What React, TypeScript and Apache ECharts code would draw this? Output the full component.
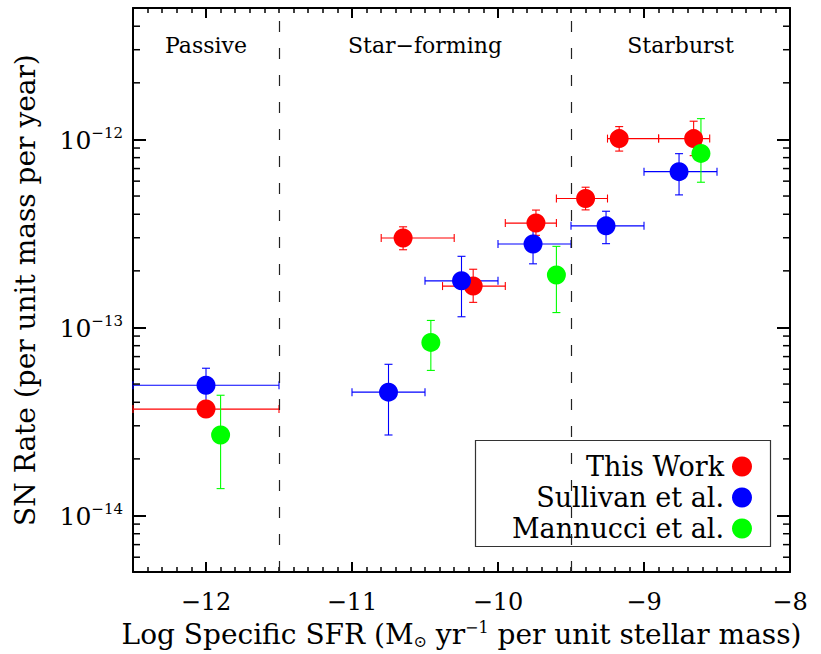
import React, { useEffect, useRef } from 'react';
import * as echarts from 'echarts';

const FONT = '"DejaVu Serif", serif';

const X_MIN = -12.5;
const X_MAX = -8;
const Y_MIN = 5e-15;
const Y_MAX = 5e-12;

const seriesNames = ['This Work', 'Sullivan et al.', 'Mannucci et al.'];
const seriesColors = ['#ff0000', '#0000ff', '#00ff00'];

// [x, y, xLow, xHigh, yLow, yHigh]
const thisWork = [
  [-12.0, 3.68e-14, -12.5, -11.5, 3.35e-14, 4.05e-14],
  [-10.65, 2.99e-13, -10.8, -10.3, 2.59e-13, 3.43e-13],
  [-10.17, 1.66e-13, -10.38, -9.95, 1.36e-13, 2.04e-13],
  [-9.74, 3.59e-13, -9.95, -9.6, 3.09e-13, 4.21e-13],
  [-9.4, 4.85e-13, -9.6, -9.25, 4.22e-13, 5.57e-13],
  [-9.17, 1.01e-12, -9.25, -8.9, 8.67e-13, 1.17e-12],
  [-8.66, 1.01e-12, -8.9, -8.55, 8.2e-13, 1.25e-12],
];

const sullivan = [
  [-12.0, 4.93e-14, -12.5, -11.5, 3.68e-14, 6.07e-14],
  [-10.75, 4.53e-14, -11.0, -10.5, 2.68e-14, 6.37e-14],
  [-10.25, 1.77e-13, -10.5, -10.0, 1.14e-13, 2.39e-13],
  [-9.76, 2.78e-13, -10.0, -9.5, 2.18e-13, 3.38e-13],
  [-9.26, 3.47e-13, -9.5, -9.0, 2.79e-13, 4.15e-13],
  [-8.76, 6.74e-13, -9.0, -8.5, 5.07e-13, 8.4e-13],
];

const mannucci = [
  [-11.9, 2.68e-14, -11.9, -11.9, 1.39e-14, 4.36e-14],
  [-10.46, 8.33e-14, -10.46, -10.46, 5.91e-14, 1.09e-13],
  [-9.6, 1.9e-13, -9.6, -9.6, 1.2e-13, 2.7e-13],
  [-8.61, 8.43e-13, -8.61, -8.61, 5.92e-13, 1.29e-12],
];

const seriesData = [thisWork, sullivan, mannucci];

const regionNames = ['Passive', 'Star\u2212forming', 'Starburst'];
const regionCenters = [-12.0, -10.5, -8.75];
const regionBounds = [-11.5, -9.5];

const minorYTicks = [
  6e-15, 7e-15, 8e-15, 9e-15,
  2e-14, 3e-14, 4e-14, 5e-14, 6e-14, 7e-14, 8e-14, 9e-14,
  2e-13, 3e-13, 4e-13, 5e-13, 6e-13, 7e-13, 8e-13, 9e-13,
  2e-12, 3e-12, 4e-12,
];

function errRender(color: string) {
  return (params: any, api: any) => {
    const x = api.value(0);
    const y = api.value(1);
    const xl = api.value(2);
    const xh = api.value(3);
    const yl = api.value(4);
    const yh = api.value(5);
    const c = api.coord([x, y]);
    const pyl = api.coord([x, yl]);
    const pyh = api.coord([x, yh]);
    const cap = 4;
    const style = { stroke: color, lineWidth: 1.1 };
    const ln = (x1: number, y1: number, x2: number, y2: number) => ({
      type: 'line',
      shape: { x1, y1, x2, y2 },
      style,
    });
    const children: any[] = [
      ln(c[0], pyl[1], c[0], pyh[1]),
      ln(c[0] - cap, pyl[1], c[0] + cap, pyl[1]),
      ln(c[0] - cap, pyh[1], c[0] + cap, pyh[1]),
    ];
    if (xh > xl) {
      const pxl = api.coord([xl, y]);
      const pxh = api.coord([xh, y]);
      children.push(
        ln(pxl[0], c[1], pxh[0], c[1]),
        ln(pxl[0], c[1] - cap, pxl[0], c[1] + cap),
        ln(pxh[0], c[1] - cap, pxh[0], c[1] + cap)
      );
    }
    return { type: 'group', children };
  };
}

export default function App() {
  const ref = useRef<HTMLDivElement>(null);

  useEffect(() => {
    document.body.style.margin = '0';
    const chart = echarts.init(ref.current!, null, { renderer: 'svg' });

    const axisLineStyle = { color: '#000', width: 2 };

    const xMajor = (pos: 'bottom' | 'top', labels: boolean): any => ({
      type: 'value',
      position: pos,
      min: X_MIN,
      max: X_MAX,
      splitLine: { show: false },
      axisLine: { show: true, onZero: false, lineStyle: axisLineStyle },
      axisTick: { show: true, inside: true, length: 10, lineStyle: { color: '#000', width: 2 } },
      axisLabel: labels
        ? {
            show: true,
            showMinLabel: false,
            margin: 18,
            color: '#000',
            fontSize: 24,
            fontFamily: FONT,
            formatter: (v: number) => (Math.abs(v - Math.round(v)) > 1e-6 ? '' : String(v).replace('-', '\u2212')),
          }
        : { show: false },
    });
    const xMinor = (pos: 'bottom' | 'top'): any => ({
      type: 'value',
      position: pos,
      min: X_MIN,
      max: X_MAX,
      interval: 0.1,
      splitLine: { show: false },
      axisLine: { show: false, onZero: false },
      axisTick: { show: true, inside: true, length: 5, lineStyle: { color: '#000', width: 1.5 } },
      axisLabel: { show: false },
    });

    const yCommon: any = {
      type: 'log',
      logBase: 10,
      min: Y_MIN,
      max: Y_MAX,
      splitLine: { show: false },
      axisLine: { show: true, onZero: false, lineStyle: axisLineStyle },
      axisTick: { show: true, inside: true, length: 13, lineStyle: { color: '#000', width: 2 } },
    };

    const series: any[] = [];
    seriesData.forEach((arr, i) => {
      series.push({
        name: seriesNames[i] + ' errors',
        type: 'custom',
        coordinateSystem: 'cartesian2d',
        xAxisIndex: 0,
        yAxisIndex: 0,
        renderItem: errRender(seriesColors[i]),
        encode: { x: 0, y: 1 },
        data: arr,
        silent: true,
        ...(i === 0
          ? {
              markLine: {
                silent: true,
                symbol: ['none', 'none'],
                label: { show: false },
                lineStyle: { color: '#222', width: 1.2, type: [11, 16] },
                data: regionBounds.map((b) => ({ xAxis: b })),
              },
            }
          : {}),
      });
      series.push({
        name: seriesNames[i],
        type: 'scatter',
        xAxisIndex: 0,
        yAxisIndex: 0,
        symbol: 'circle',
        symbolSize: 19,
        itemStyle: { color: seriesColors[i], opacity: 1 },
        data: arr.map((d) => [d[0], d[1]]),
      });
    });

    series.push({
      name: 'minor y ticks',
      type: 'custom',
      coordinateSystem: 'cartesian2d',
      xAxisIndex: 0,
      yAxisIndex: 0,
      silent: true,
      data: minorYTicks.map((v) => [X_MIN, v]),
      encode: { x: 0, y: 1 },
      renderItem: (params: any, api: any) => {
        const p = api.coord([X_MIN, api.value(1)]);
        const cs = params.coordSys;
        const style = { stroke: '#000', lineWidth: 1.5 };
        return {
          type: 'group',
          children: [
            { type: 'line', shape: { x1: cs.x, y1: p[1], x2: cs.x + 7, y2: p[1] }, style },
            { type: 'line', shape: { x1: cs.x + cs.width, y1: p[1], x2: cs.x + cs.width - 7, y2: p[1] }, style },
          ],
        };
      },
    });

    const option: any = {
      animation: false,
      backgroundColor: '#fff',
      grid: { left: 133, top: 8, width: 657, height: 568, containLabel: false },
      xAxis: [
        {
          ...xMajor('bottom', true),
          name: '{t|Log Specific SFR (M}{sub|\u2299}{t| yr}{sup|\u22121}{t| per unit stellar mass)}',
          nameLocation: 'middle',
          nameGap: 45,
          nameTextStyle: {
            color: '#000',
            fontFamily: FONT,
            rich: {
              t: { fontSize: 28, lineHeight: 30, verticalAlign: 'middle', fontFamily: FONT, color: '#000' },
              sup: { fontSize: 16, lineHeight: 16, verticalAlign: 'top', fontFamily: FONT, color: '#000' },
              sub: { fontSize: 16, lineHeight: 16, verticalAlign: 'bottom', fontFamily: FONT, color: '#000' },
            },
          },
        },
        xMinor('bottom'),
        xMajor('top', false),
        xMinor('top'),
      ],
      yAxis: [
        {
          ...yCommon,
          position: 'left',
          name: 'SN Rate (per unit mass per year)',
          nameLocation: 'middle',
          nameGap: 94,
          nameTextStyle: { color: '#000', fontSize: 28, fontFamily: FONT },
          axisLabel: {
            show: true,
            margin: 10,
            color: '#000',
            fontFamily: FONT,
            formatter: (v: number) => {
              const e = Math.log10(v);
              const r = Math.round(e);
              if (Math.abs(e - r) > 1e-6) return '';
              return '{b|10}{s|\u2212' + String(-r) + '}';
            },
            rich: {
              b: { fontSize: 25, lineHeight: 28, verticalAlign: 'bottom', fontFamily: FONT, color: '#000' },
              s: { fontSize: 15, lineHeight: 14, verticalAlign: 'top', fontFamily: FONT, color: '#000' },
            },
          },
        },
        { ...yCommon, position: 'right', axisLabel: { show: false } },
      ],
      legend: seriesNames.map((n, i) => ({
        data: [n],
        orient: 'vertical',
        align: 'right',
        right: 64,
        top: [448, 479, 510][i],
        itemWidth: 20,
        itemHeight: 20,
        icon: 'circle',
        selectedMode: false,
        textStyle: { color: '#000', fontSize: 27, fontFamily: FONT, padding: [0, 3, 0, 0] },
      })),
      series,
    };

    chart.setOption(option);

    const regionGraphics = regionNames.map((n, i) => {
      const px = chart.convertToPixel({ xAxisIndex: 0 }, regionCenters[i]) as number;
      return {
        type: 'text',
        x: px,
        y: 45,
        silent: true,
        style: {
          text: n,
          fill: '#000',
          fontSize: 22,
          fontFamily: FONT,
          align: 'center',
          verticalAlign: 'middle',
          textAlign: 'center',
          textVerticalAlign: 'middle',
        },
      };
    });

    chart.setOption({
      graphic: [
        {
          type: 'rect',
          silent: true,
          shape: { x: 475.5, y: 440.5, width: 295, height: 106 },
          style: { fill: 'none', stroke: '#333', lineWidth: 1.2 },
          z: 1,
        },
        ...regionGraphics,
      ],
    });

    return () => chart.dispose();
  }, []);

  return <div ref={ref} style={{ width: 821, height: 654 }} />;
}
